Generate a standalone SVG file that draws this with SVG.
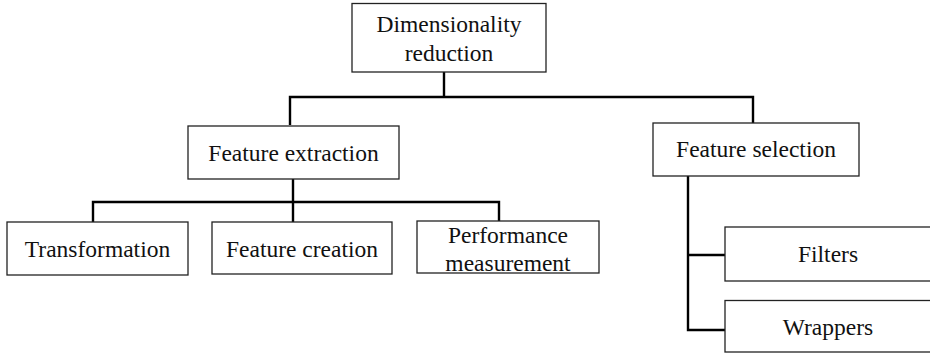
<svg xmlns="http://www.w3.org/2000/svg" width="930" height="353" viewBox="0 0 930 353">
<style>
.box{fill:#fff;stroke:#222;stroke-width:1.3}
.lbl{font-family:"Liberation Serif","Times New Roman",serif;font-size:23.5px;fill:#111;text-anchor:middle}
.con{fill:none;stroke:#000;stroke-width:2.4;stroke-linejoin:miter}
</style>
<rect width="930" height="353" fill="#fff"/>
<g id="connectors">
<path class="con" d="M444 72V97M290 125V97H753V123"/>
<path class="con" d="M293 179V202M93 222V202H499V221M293 202V222"/>
<path class="con" d="M688 176V330H725M688 255H725"/>
</g>
<g id="dimred"><rect class="box" x="352" y="3.5" width="194" height="68.5"/><text class="lbl" x="449" y="32">Dimensionality</text><text class="lbl" x="449" y="61">reduction</text></g>
<g id="extraction"><rect class="box" x="188" y="126" width="211" height="53"/><text class="lbl" x="293.5" y="161">Feature extraction</text></g>
<g id="selection"><rect class="box" x="653" y="123" width="206" height="53"/><text class="lbl" x="756" y="157">Feature selection</text></g>
<g id="transformation"><rect class="box" x="7" y="222" width="181" height="53"/><text class="lbl" x="97.5" y="257">Transformation</text></g>
<g id="creation"><rect class="box" x="212" y="222" width="180" height="52"/><text class="lbl" x="302" y="257">Feature creation</text></g>
<g id="performance"><rect class="box" x="417" y="221" width="182" height="52"/><text class="lbl" x="508" y="243">Performance</text><text class="lbl" x="508" y="270.5">measurement</text></g>
<g id="filters"><rect class="box" x="725" y="227" width="210" height="54"/><text class="lbl" x="828" y="262">Filters</text></g>
<g id="wrappers"><rect class="box" x="725" y="300.5" width="210" height="51.5"/><text class="lbl" x="828" y="335">Wrappers</text></g>
</svg>
